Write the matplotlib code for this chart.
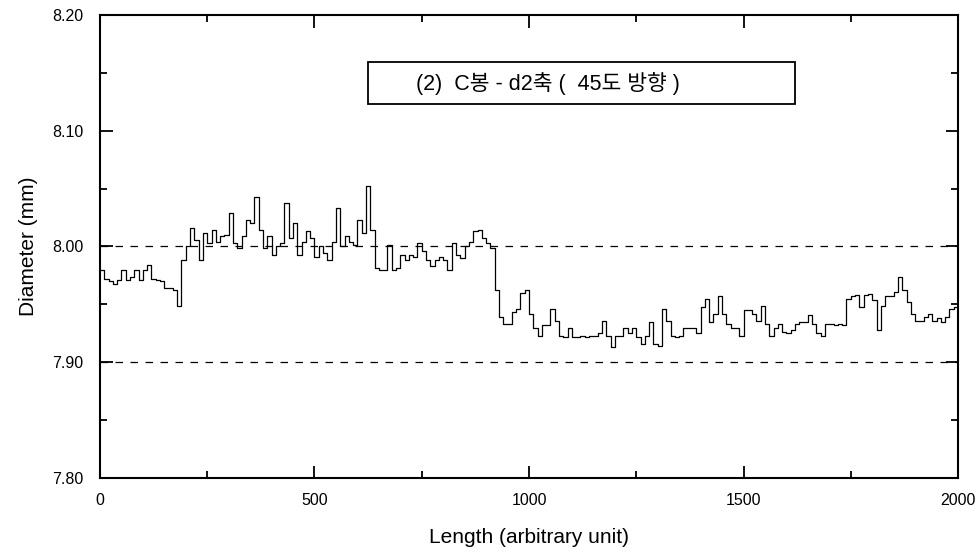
import numpy as np
import matplotlib.pyplot as plt
from matplotlib.patches import Rectangle
from matplotlib.ticker import MultipleLocator, FormatStrFormatter

# sample positions (every 10 units) and diameters
length = list(range(0, 2001, 10))
diameter = [
    7.980, 7.972, 7.970, 7.968, 7.971, 7.980, 7.971, 7.974, 7.980, 7.971,
    7.980, 7.984, 7.972, 7.971, 7.970, 7.964, 7.964, 7.962, 7.949, 7.988,
    8.000, 8.016, 8.006, 7.988, 8.012, 8.003, 8.014, 8.004, 8.009, 8.010,
    8.029, 8.003, 7.999, 8.009, 8.023, 8.020, 8.043, 8.014, 7.999, 8.009,
    7.993, 8.000, 8.003, 8.038, 8.007, 8.020, 7.993, 8.004, 8.013, 8.007,
    7.991, 8.000, 7.994, 7.988, 8.004, 8.033, 8.000, 8.009, 8.004, 8.001,
    8.023, 8.012, 8.052, 8.014, 7.981, 7.980, 7.980, 8.001, 7.980, 7.981,
    7.993, 7.988, 7.993, 7.991, 8.003, 7.996, 7.988, 7.983, 7.988, 7.991,
    7.988, 7.980, 8.003, 7.993, 7.990, 8.000, 8.004, 8.013, 8.014, 8.007,
    8.003, 7.999, 7.962, 7.939, 7.933, 7.933, 7.943, 7.946, 7.960, 7.962,
    7.942, 7.930, 7.923, 7.932, 7.932, 7.946, 7.936, 7.923, 7.922, 7.930,
    7.922, 7.922, 7.923, 7.922, 7.923, 7.923, 7.925, 7.936, 7.923, 7.913,
    7.923, 7.923, 7.930, 7.925, 7.930, 7.922, 7.916, 7.923, 7.935, 7.916,
    7.914, 7.946, 7.936, 7.923, 7.922, 7.923, 7.930, 7.930, 7.930, 7.925,
    7.948, 7.955, 7.935, 7.942, 7.957, 7.942, 7.933, 7.930, 7.930, 7.923,
    7.945, 7.945, 7.942, 7.936, 7.949, 7.933, 7.923, 7.930, 7.933, 7.926,
    7.925, 7.928, 7.933, 7.935, 7.935, 7.941, 7.933, 7.925, 7.923, 7.933,
    7.933, 7.932, 7.933, 7.932, 7.955, 7.957, 7.958, 7.948, 7.958, 7.959,
    7.954, 7.928, 7.949, 7.957, 7.957, 7.961, 7.974, 7.962, 7.952, 7.942,
    7.936, 7.936, 7.939, 7.942, 7.936, 7.938, 7.935, 7.939, 7.946, 7.948,
    7.949,
]
ref_levels = [8.00, 7.90]
label_text = '(2)  C봉 - d2축 (  45도 방향 )'

plt.rcParams['font.family'] = ['Liberation Sans', 'Noto Sans CJK KR']

fig = plt.figure(figsize=(9.78, 5.53), dpi=100)
ax = fig.add_axes([0.1022, 0.1356, 0.8774, 0.8373])

ax.plot(length, diameter, color='black', lw=0.9, drawstyle='steps-post')
for lvl in ref_levels:
    ax.axhline(lvl, color='black', lw=0.9, ls=(0, (6, 6)))

ax.set_xlim(0, 2000)
ax.set_ylim(7.80, 8.20)
ax.xaxis.set_major_locator(MultipleLocator(500))
ax.xaxis.set_minor_locator(MultipleLocator(250))
ax.yaxis.set_major_locator(MultipleLocator(0.1))
ax.yaxis.set_minor_locator(MultipleLocator(0.05))
ax.yaxis.set_major_formatter(FormatStrFormatter('%.2f'))

ax.tick_params(which='both', direction='in', top=True, right=True,
               labelsize=11.5, width=1.3)
ax.tick_params(which='major', length=9)
ax.tick_params(which='minor', length=5)
ax.tick_params(axis='x', pad=11)
ax.tick_params(axis='y', pad=12)
for sp in ax.spines.values():
    sp.set_linewidth(1.5)

ax.set_xlabel('Length (arbitrary unit)', fontsize=15, labelpad=14)
ax.set_ylabel('Diameter (mm)', fontsize=15, labelpad=10)

# label box (text sits left of the box centre, as in the original)
ax.add_patch(Rectangle((0.3124, 0.8078), 0.4976, 0.0907, transform=ax.transAxes,
                       fc='white', ec='black', lw=1.3, zorder=3))
ax.text(0.522, 0.853, label_text, transform=ax.transAxes, fontsize=15.5,
        ha='center', va='center', zorder=4)

fig.savefig('out.png', dpi=100)
